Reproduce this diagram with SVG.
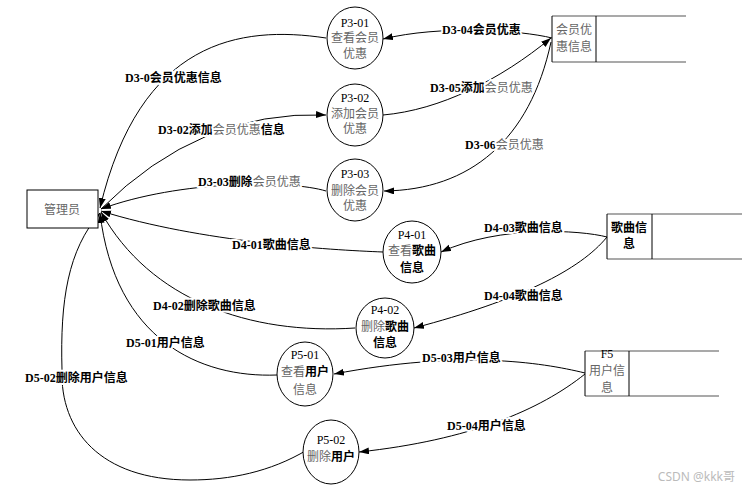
<svg xmlns="http://www.w3.org/2000/svg" width="747" height="492" viewBox="0 0 747 492">
<style>
.box{fill:#fff;stroke:#000;stroke-width:1}
.store{fill:#fff;stroke:none}
.sl{stroke:#555;stroke-width:1.2;fill:none}
.sv{stroke:#000;stroke-width:1;fill:none}
.proc{fill:#fff;stroke:#000;stroke-width:1}
.t{font-family:"Liberation Serif","Noto Sans CJK SC",serif;font-size:12px;text-anchor:middle;fill:#000}
.g{fill:#666;font-weight:normal}
.b{font-weight:bold;fill:#000}
.lbl{font-family:"Liberation Serif","Noto Sans CJK SC",serif;font-size:12px;font-weight:bold;fill:#000;stroke:#fff;stroke-width:4;paint-order:stroke;stroke-linejoin:round}
.c{fill:none;stroke:#000;stroke-width:1;marker-end:url(#ah)}
</style>
<defs>
<marker id="ah" markerUnits="userSpaceOnUse" markerWidth="11" markerHeight="8" refX="10" refY="3.5" orient="auto">
<path d="M0,0 L10,3.5 L0,7 z" fill="#000"/>
</marker>
</defs>
<rect width="747" height="492" fill="#fff"/>

<g id="connectors">
<path class="c" d="M326,38 C240,25 140,40 100,208"/>
<path class="c" d="M101,209 Q200,110 326,115"/>
<path class="c" d="M326,191 C290,180 180,180 101,209"/>
<path class="c" d="M383,252 C330,250 200,242 101,211"/>
<path class="c" d="M355,328 C250,335 150,300 101,212"/>
<path class="c" d="M277,375 C200,378 115,340 100,213"/>
<path class="c" d="M307,450 C270,472 230,480 190,480 C100,480 60,430 62,370 C60,300 68,250 100,213"/>
<path class="c" d="M552,38 C520,30 440,25 383,39"/>
<path class="c" d="M383,115 C440,110 500,80 551,38"/>
<path class="c" d="M551,42 C530,140 470,190 384,191"/>
<path class="c" d="M607,237 C580,230 500,225 441,252"/>
<path class="c" d="M607,237 C580,270 520,300 414,328"/>
<path class="c" d="M585,373 C540,362 460,350 334,374"/>
<path class="c" d="M585,374 C540,410 470,440 359,452"/>
</g>

<g id="labels">
<text class="lbl" x="125" y="82">D3-0会员优惠信息</text>
<text class="lbl" x="158" y="134">D3-02添加<tspan class="g">会员优惠</tspan>信息</text>
<text class="lbl" x="198" y="186">D3-03删除<tspan class="g">会员优惠</tspan></text>
<text class="lbl" x="232" y="249">D4-01歌曲信息</text>
<text class="lbl" x="153" y="310">D4-02删除歌曲信息</text>
<text class="lbl" x="126" y="347">D5-01用户信息</text>
<text class="lbl" x="25" y="382">D5-02删除用户信息</text>
<text class="lbl" x="442" y="34">D3-04会员优惠</text>
<text class="lbl" x="430" y="92">D3-05添加<tspan class="g">会员优惠</tspan></text>
<text class="lbl" x="465" y="149">D3-06<tspan class="g">会员优惠</tspan></text>
<text class="lbl" x="484" y="232">D4-03歌曲信息</text>
<text class="lbl" x="484" y="300">D4-04歌曲信息</text>
<text class="lbl" x="422" y="362">D5-03用户信息</text>
<text class="lbl" x="447" y="430">D5-04用户信息</text>
</g>

<g id="admin">
<rect class="box" x="27" y="190" width="71" height="38"/>
<text class="t g" x="62" y="214">管理员</text>
</g>

<g id="P3-01">
<ellipse class="proc" cx="355" cy="38" rx="28" ry="31"/>
<text class="t" x="355" y="27">P3-01</text>
<text class="t g" x="355" y="42">查看会员</text>
<text class="t g" x="355" y="58">优惠</text>
</g>
<g id="P3-02">
<ellipse class="proc" cx="355" cy="115" rx="28" ry="31"/>
<text class="t" x="355" y="102">P3-02</text>
<text class="t g" x="355" y="118">添加会员</text>
<text class="t g" x="355" y="133">优惠</text>
</g>
<g id="P3-03">
<ellipse class="proc" cx="355" cy="190" rx="28" ry="31"/>
<text class="t" x="355" y="178">P3-03</text>
<text class="t g" x="355" y="195">删除会员</text>
<text class="t g" x="355" y="210">优惠</text>
</g>
<g id="P4-01">
<ellipse class="proc" cx="412" cy="252" rx="29" ry="31"/>
<text class="t" x="412" y="239">P4-01</text>
<text class="t" x="412" y="255"><tspan class="g">查看</tspan><tspan class="b">歌曲</tspan></text>
<text class="t b" x="412" y="272">信息</text>
</g>
<g id="P4-02">
<ellipse class="proc" cx="385" cy="328" rx="29" ry="30"/>
<text class="t" x="385" y="314">P4-02</text>
<text class="t" x="385" y="331"><tspan class="g">删除</tspan><tspan class="b">歌曲</tspan></text>
<text class="t b" x="385" y="347">信息</text>
</g>
<g id="P5-01">
<ellipse class="proc" cx="305" cy="374" rx="28" ry="32"/>
<text class="t" x="305" y="359">P5-01</text>
<text class="t" x="305" y="376"><tspan class="g">查看</tspan><tspan class="b">用户</tspan></text>
<text class="t g" x="305" y="394">信息</text>
</g>
<g id="P5-02">
<ellipse class="proc" cx="331" cy="452" rx="28" ry="32"/>
<text class="t" x="331" y="444">P5-02</text>
<text class="t" x="331" y="461"><tspan class="g">删除</tspan><tspan class="b">用户</tspan></text>
</g>

<g id="D3">
<line class="sl" x1="552" y1="16" x2="686" y2="16"/>
<line class="sl" x1="552" y1="62" x2="686" y2="62"/>
<line class="sv" x1="552" y1="16" x2="552" y2="62"/>
<line class="sv" x1="596" y1="16" x2="596" y2="62"/>
<text class="t g" x="574" y="34">会员优</text>
<text class="t g" x="574" y="51">惠信息</text>
</g>
<g id="D4">
<line class="sl" x1="607" y1="214" x2="742" y2="214"/>
<line class="sl" x1="607" y1="259" x2="742" y2="259"/>
<line class="sv" x1="607" y1="214" x2="607" y2="259"/>
<line class="sv" x1="652" y1="214" x2="652" y2="259"/>
<text class="t b" x="629" y="232">歌曲信</text>
<text class="t b" x="629" y="248">息</text>
</g>
<g id="F5">
<line class="sl" x1="585" y1="351" x2="719" y2="351"/>
<line class="sl" x1="585" y1="396" x2="719" y2="396"/>
<line class="sv" x1="585" y1="351" x2="585" y2="396"/>
<line class="sv" x1="629" y1="351" x2="629" y2="396"/>
<text class="t" x="607" y="358">F5</text>
<text class="t g" x="607" y="375">用户信</text>
<text class="t g" x="607" y="392">息</text>
</g>

<text x="735" y="481" font-family="'Noto Sans','Noto Sans CJK SC',sans-serif" font-size="12" fill="#bbb" text-anchor="end">CSDN @kkk哥</text>
</svg>
